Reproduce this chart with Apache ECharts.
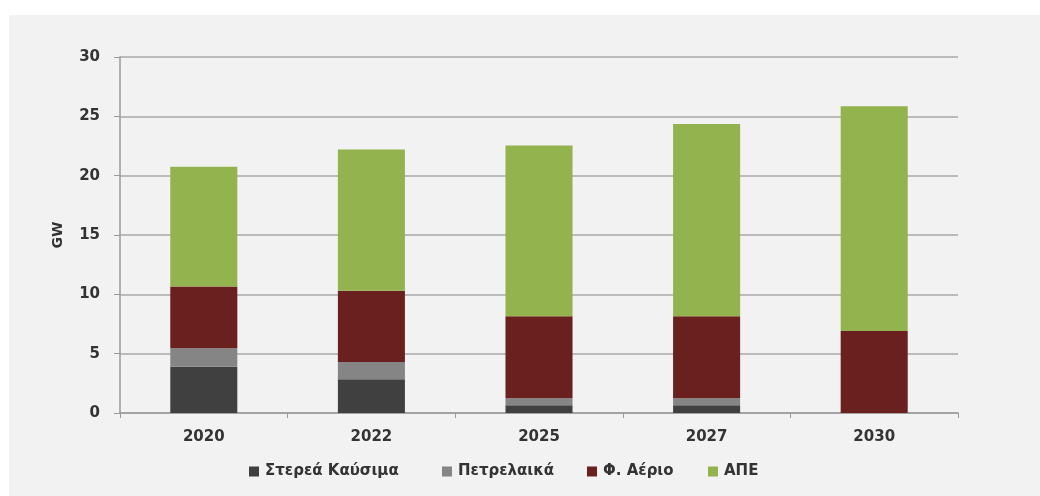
<!DOCTYPE html>
<html>
<head>
<meta charset="utf-8">
<script src="https://cdn.jsdelivr.net/npm/echarts@6/dist/echarts.min.js"></script>
<style>
  html, body { margin: 0; padding: 0; background: #ffffff; }
  #frame { position: absolute; left: 9px; top: 15px; width: 1031px; height: 481px; background: #f1f2f1; }
  #chart { position: absolute; left: 0; top: 0; width: 1040px; height: 496px; }
</style>
</head>
<body>
<div id="frame"></div>
<div id="chart"></div>
<script>
// Installed capacity by source (GW)
const years = ['2020', '2022', '2025', '2027', '2030'];
const solidFuels = [3.9, 2.85, 0.65, 0.65, 0];
const oilProducts = [1.55, 1.45, 0.6, 0.6, 0];
const naturalGas = [5.2, 6.0, 6.9, 6.9, 6.9];
const renewables = [10.1, 11.9, 14.4, 16.2, 18.95];
const seriesNames = ['Στερεά Καύσιμα', 'Πετρελαικά', 'Φ. Αέριο', 'ΑΠΕ'];
const yTicks = [0, 5, 10, 15, 20, 25, 30];

const colors = ['#404040', '#858585', '#6b2020', '#93b34f'];
const legendLeft = [249, 442, 587, 708];
const font = 'DejaVu Sans';
const textColor = '#333333';

const chart = echarts.init(document.getElementById('chart'), null, { renderer: 'canvas' });

function bar(name, data, color) {
  return {
    name: name,
    type: 'bar',
    stack: 'total',
    data: data,
    barWidth: '40%',
    itemStyle: { color: color },
    emphasis: { disabled: true }
  };
}

// one legend block per series so each entry sits at its own spot
const legends = seriesNames.map((name, i) => ({
  top: 464,
  left: legendLeft[i],
  icon: 'rect',
  itemWidth: 10,
  itemHeight: 10,
  itemGap: 0,
  padding: 0,
  textStyle: { fontFamily: font, fontWeight: 'bold', fontSize: 15, color: textColor, padding: [0, 0, 0, 1] },
  data: [name]
}));

chart.setOption({
  animation: false,
  backgroundColor: 'transparent',
  grid: { left: 120, right: 82, top: 57, bottom: 83, containLabel: false },
  legend: legends,
  xAxis: {
    type: 'category',
    data: years,
    axisLine: { lineStyle: { color: '#9a9a9a', width: 1.5 } },
    axisTick: { show: true, length: 5, lineStyle: { color: '#9a9a9a' } },
    axisLabel: { fontFamily: font, fontWeight: 'bold', fontSize: 15, color: textColor, margin: 17 }
  },
  yAxis: {
    type: 'value',
    min: yTicks[0],
    max: yTicks[yTicks.length - 1],
    interval: 5,
    name: 'GW',
    nameLocation: 'middle',
    nameGap: 55,
    nameRotate: 90,
    nameTextStyle: { fontFamily: font, fontWeight: 'bold', fontSize: 14, color: textColor },
    axisLine: { show: true, lineStyle: { color: '#9a9a9a', width: 1.5 } },
    axisTick: { show: true, length: 6, lineStyle: { color: '#9a9a9a' } },
    splitLine: { lineStyle: { color: '#a8a8a8', width: 1.5 } },
    axisLabel: { fontFamily: font, fontWeight: 'bold', fontSize: 15, color: textColor, margin: 20 }
  },
  series: [
    bar(seriesNames[0], solidFuels, colors[0]),
    bar(seriesNames[1], oilProducts, colors[1]),
    bar(seriesNames[2], naturalGas, colors[2]),
    bar(seriesNames[3], renewables, colors[3])
  ]
});
</script>
</body>
</html>
